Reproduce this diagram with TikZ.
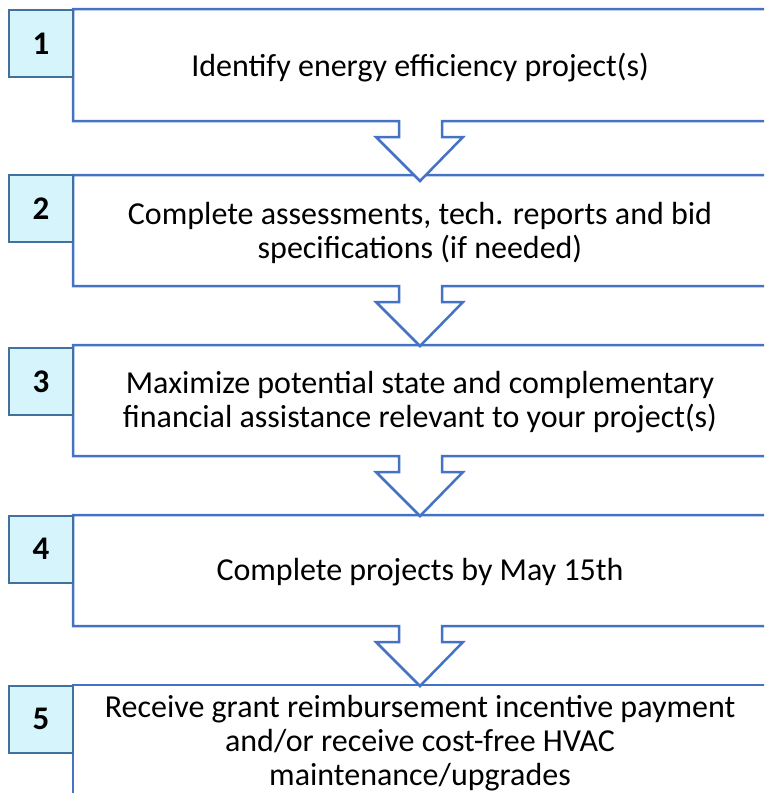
\documentclass[tikz,border=0pt]{standalone}
\usepackage{fontspec}
\setmainfont{Carlito}
\definecolor{boxblue}{HTML}{4472C4}
\definecolor{numfill}{HTML}{D6F4FB}
\definecolor{numedge}{HTML}{41719C}
\tikzset{
  flowbox/.style={draw=boxblue, line width=2.5pt, fill=white, line join=miter},
  numbox/.style={draw=numedge, fill=numfill, line width=2pt, minimum width=64pt, minimum height=67pt, inner sep=0pt, font=\fontsize{33}{36}\selectfont\bfseries},
  steptext/.style={align=center, inner sep=0pt, font=\fontsize{32}{34}\selectfont}
}
\newcommand{\arrowbox}[2]{% top, bottom
  \draw[flowbox] (73,#1) -- (767,#1) -- (767,#2) -- (442,#2) -- (442,#2+16) -- (463,#2+16)
    -- (420,#2+60) -- (376,#2+16) -- (399,#2+16) -- (399,#2) -- (73,#2) -- cycle;}
\begin{document}
\begin{tikzpicture}[x=1pt,y=-1pt]
\useasboundingbox (0,0) rectangle (764,793);
\clip (0,0) rectangle (764,793);
% boxes, drawn from the last to the first so each arrow lies over the next box
\draw[flowbox] (73,685) rectangle (767,800);
\arrowbox{515}{626}
\arrowbox{345}{456}
\arrowbox{175}{286}
\arrowbox{9}{121}
% number boxes
\node[numbox] (n1) at (41,43.5) {1};
\node[numbox] (n2) at (41,208.5) {2};
\node[numbox] (n3) at (41,381.5) {3};
\node[numbox] (n4) at (41,549) {4};
\node[numbox] (n5) at (41,719) {5};
% texts
\node[steptext] (t1) at (420,68) {Identify energy efficiency project(s)};
\node[steptext] (t2) at (420,232.5) {Complete assessments, tech. reports and bid\\specifications (if needed)};
\node[steptext] (t3) at (420,402.5) {Maximize potential state and complementary\\financial assistance relevant to your project(s)};
\node[steptext] (t4) at (420,572.5) {Complete projects by May 15th};
\node[steptext] (t5) at (420,743) {Receive grant reimbursement incentive payment\\and/or receive cost-free HVAC\\maintenance/upgrades};
\end{tikzpicture}
\end{document}
